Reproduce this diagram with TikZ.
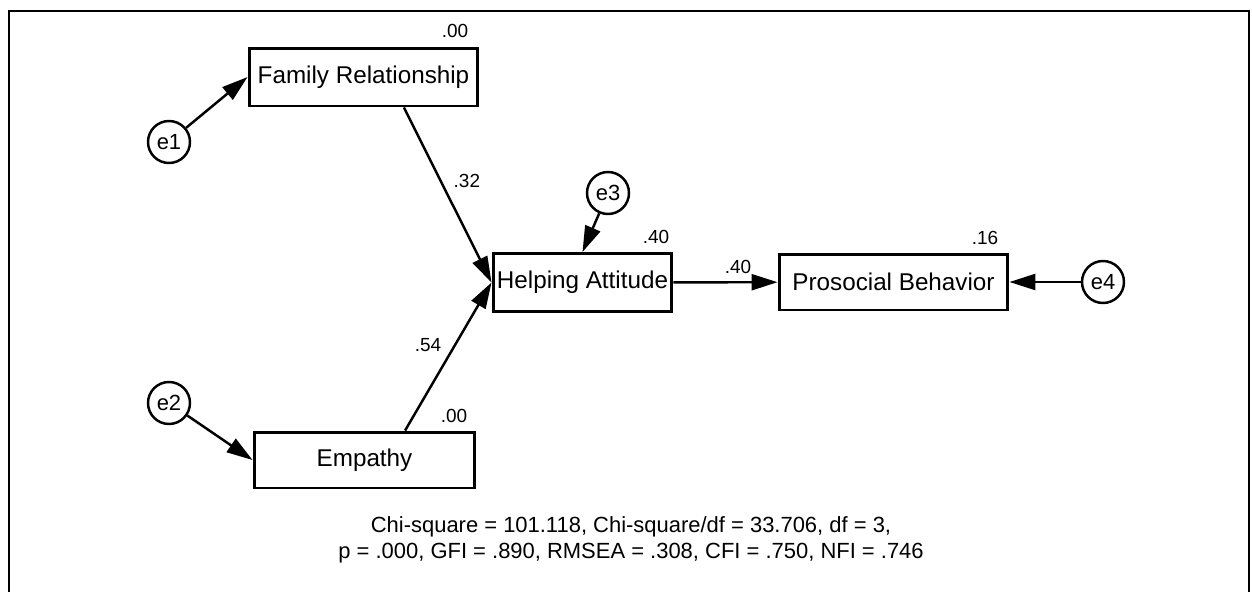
\documentclass[tikz,border=0pt]{standalone}
\usepackage{fontspec}
\setmainfont{Liberation Sans}
\usetikzlibrary{arrows.meta}

\tikzset{
  var/.style = {draw, line width=1.7pt, minimum height=1.16cm, inner sep=0pt, font=\fontsize{13.8}{16}\selectfont},
  err/.style = {draw, circle, line width=1.4pt, minimum size=0.84cm, inner sep=0pt, font=\fontsize{12.5}{14}\selectfont},
  regr/.style = {line width=1.4pt, -{Triangle[length=0.52cm, width=0.32cm]}},
  est/.style = {font=\fontsize{10.8}{12}\selectfont, inner sep=1pt}
}

\begin{document}
\begin{tikzpicture}[x=0.02cm, y=-0.02cm]
\useasboundingbox (0,0) rectangle (1252,592);
% the frame, open at the bottom
\draw[line width=1.5pt] (9,620) -- (9,11) -- (1249,11) -- (1249,620);

% observed variables
\node[var, minimum width=4.58cm] (fam) at (363.5,77) {Family Relationship};
\node[var, minimum width=4.42cm, minimum height=1.12cm] (emp) at (364.5,460) {Empathy};
\node[var, minimum width=3.58cm] (help) at (582.5,282.5) {Helping Attitude};
\node[var, minimum width=4.58cm, minimum height=1.12cm] (pro) at (893.5,282) {Prosocial Behavior};

% error terms
\node[err] (e1) at (169,142) {e1};
\node[err] (e2) at (169,403) {e2};
\node[err] (e3) at (608,193) {e3};
\node[err] (e4) at (1103,282) {e4};

\draw[regr] (e1) -- (fam.west);
\draw[regr] (e2) -- (emp.west);
\draw[regr] (e3) -- (help.north);
\draw[regr] (e4) -- (pro.east);

% paths
\draw[regr] (fam.-37) -- (help.west) node[est, pos=0.42, right=0.2cm] (b32) {.32};
\draw[regr] (emp.36) -- (help.west) node[est, pos=0.58, left=0.22cm] (b54) {.54};
\draw[regr] (help) -- (pro) node[est, pos=0.62, above=0.12cm] (b40) {.40};

% squared multiple correlations
\node[est] (r2fam) at (455,31) {.00};
\node[est] (r2emp) at (454,416) {.00};
\node[est] (r2help) at (656,237) {.40};
\node[est] (r2pro) at (985,238) {.16};

% fit
\node[align=center, font=\fontsize{12.5}{14.8}\selectfont] (fit) at (631,540) {Chi-square = 101.118, Chi-square/df = 33.706, df = 3,\\ p = .000, GFI = .890, RMSEA = .308, CFI = .750, NFI = .746};
\end{tikzpicture}
\end{document}
